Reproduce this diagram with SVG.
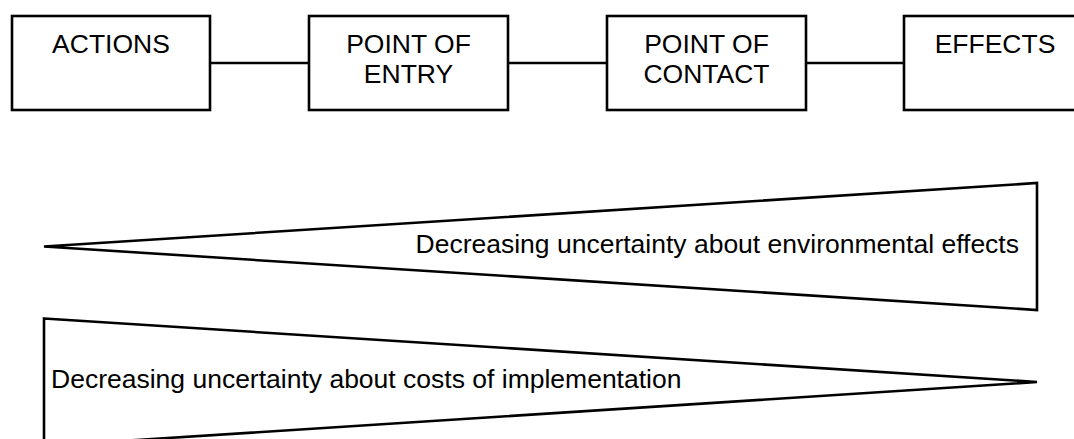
<svg xmlns="http://www.w3.org/2000/svg" width="1074" height="439" viewBox="0 0 1074 439">
<style>
.box{fill:#fff;stroke:#000;stroke-width:2.6}
.ln{stroke:#000;stroke-width:2.6;fill:none}
.t{font-family:"Liberation Sans",Arial,sans-serif;font-size:26.5px;fill:#000}
.c{text-anchor:middle}
</style>
<rect width="1074" height="439" fill="#fff"/>
<g id="connectors">
<line class="ln" x1="210" y1="63" x2="309" y2="63"/>
<line class="ln" x1="508" y1="63" x2="607" y2="63"/>
<line class="ln" x1="806" y1="63" x2="904" y2="63"/>
</g>
<g id="actions">
<rect class="box" x="12" y="16" width="198" height="94"/>
<text class="t c" x="111" y="52.5">ACTIONS</text>
</g>
<g id="entry">
<rect class="box" x="309" y="16" width="199" height="94"/>
<text class="t c" x="408.5" y="52.5">POINT OF</text>
<text class="t c" x="408.5" y="83">ENTRY</text>
</g>
<g id="contact">
<rect class="box" x="607" y="16" width="199" height="94"/>
<text class="t c" x="706.5" y="52.5">POINT OF</text>
<text class="t c" x="706.5" y="83">CONTACT</text>
</g>
<g id="effects">
<rect class="box" x="904" y="16" width="200" height="94"/>
<text class="t c" x="995" y="52.5">EFFECTS</text>
</g>
<g id="wedge-env">
<polygon class="ln" points="44,246.5 1037,183 1037,310"/>
<text class="t" x="1019" y="252.5" text-anchor="end">Decreasing uncertainty about environmental effects</text>
</g>
<g id="wedge-cost">
<polygon class="ln" points="44,318.5 1037,382 44,446"/>
<text class="t" x="51" y="387.5">Decreasing uncertainty about costs of implementation</text>
</g>
</svg>
